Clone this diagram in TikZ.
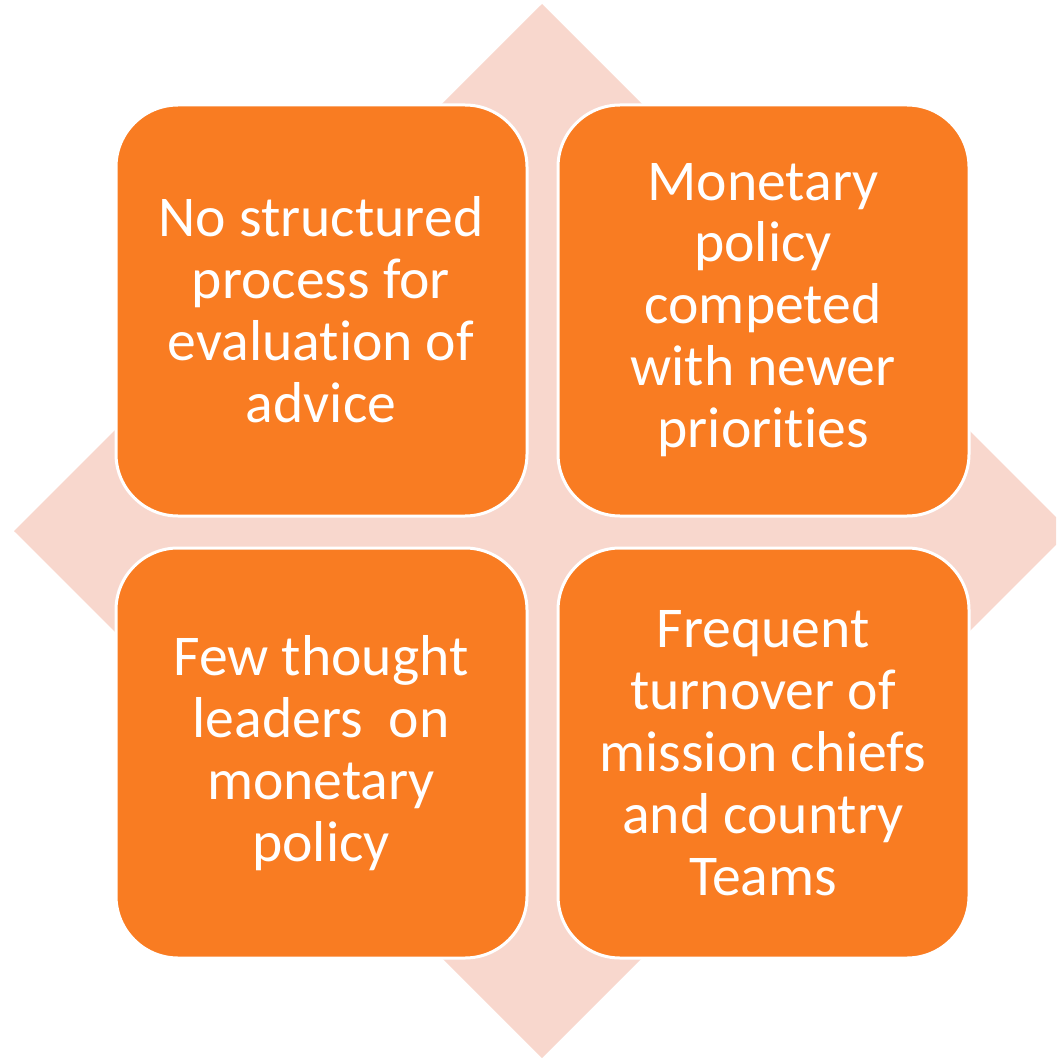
\documentclass[tikz,border=0pt]{standalone}
\usepackage{fontspec}
\setmainfont{Carlito}[Ligatures=NoCommon]
\definecolor{tileorange}{HTML}{F97C22}
\definecolor{diamondpink}{HTML}{F8D7CD}
\begin{document}
\begin{tikzpicture}[x=0.01cm,y=-0.01cm,
  tile/.style={fill=tileorange, draw=white, line width=0.03cm,
    rounded corners=0.62cm},
  tiletext/.style={text=white, align=center, font=\fontsize{16.4}{17.6}\selectfont}]
\useasboundingbox (0,0) rectangle (1056,1058);
\clip (0,0) rectangle (1056,1058);
% pale diamond behind the tiles
\fill[diamondpink] (542,4) -- (1070,531) -- (542,1058) -- (14,531) -- cycle;
% four tiles
\draw[tile] (116,105) rectangle (527,516);
\draw[tile] (558,105) rectangle (969,516);
\draw[tile] (116,548) rectangle (527,958);
\draw[tile] (558,548) rectangle (969,958);
\node[tiletext] (tl) at (321,310) {No structured\\process for\\evaluation of\\advice};
\node[tiletext] (tr) at (763,310) {Monetary\\policy\\competed\\with newer\\priorities};
\node[tiletext] (bl) at (321,753) {Few thought\\leaders\ \ on\\monetary\\policy};
\node[tiletext] (br) at (763,753) {Frequent\\turnover of\\mission chiefs\\and country\\Teams};
\end{tikzpicture}
\end{document}
